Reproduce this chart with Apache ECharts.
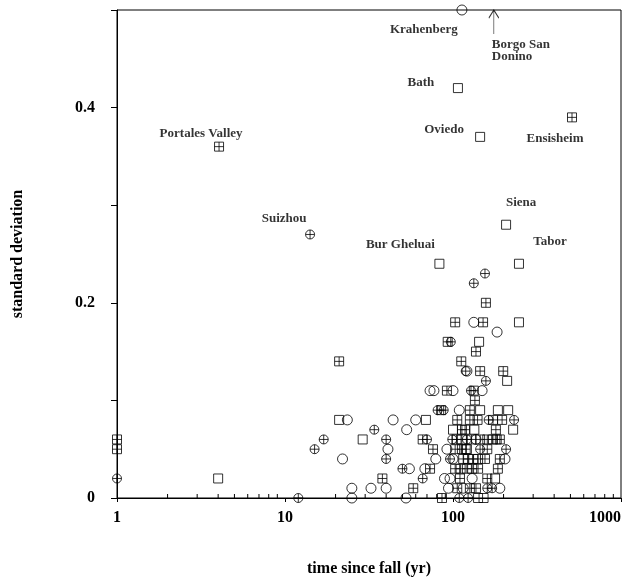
<!DOCTYPE html>
<html>
<head>
<meta charset="utf-8">
<script src="https://cdn.jsdelivr.net/npm/echarts@6/dist/echarts.min.js"></script>
<style>html,body{margin:0;padding:0;background:#fff;}#chart{width:639px;height:582px;}</style>
</head>
<body>
<div id="chart"></div>
<script>
// ---- data (time since fall [yr], standard deviation) ----
const circles = [
  [113,0.5],
  [133,0.18],[183,0.17],[121,0.13],
  [73,0.11],[77,0.11],[100,0.11],[149,0.11],
  [109,0.09],
  [23.5,0.08],[44,0.08],[60,0.08],
  [53,0.07],
  [137,0.06],
  [41,0.05],[92,0.05],
  [22,0.04],[79,0.04],[100,0.04],[204,0.04],
  [55,0.03],[68,0.03],
  [89,0.02],[96,0.02],[130,0.02],
  [25,0.01],[32.5,0.01],[40,0.01],[94,0.01],[115,0.01],[190,0.01],
  [25,0],[52.5,0]
];
const squares = [
  [107,0.42],[145,0.37],[207,0.28],[247,0.24],[83,0.24],
  [247,0.18],[143,0.16],[210,0.12],
  [145,0.09],[185,0.09],[213,0.09],
  [21,0.08],[69,0.08],
  [100,0.07],[134,0.07],[228,0.07],
  [29,0.06],
  [121,0.05],
  [4,0.02],[178,0.02],
  [141,0],[152,0]
];
const boxPlus = [
  [4.05,0.36],[511,0.39],
  [157,0.2],
  [103,0.18],[151,0.18],
  [93,0.16],
  [137,0.15],
  [21,0.14],[112,0.14],
  [145,0.13],[199,0.13],
  [92,0.11],[133,0.11],
  [135,0.1],
  [85,0.09],[126,0.09],
  [106,0.08],[126,0.08],[140,0.08],[173,0.08],[196,0.08],
  [113,0.07],[118,0.07],[180,0.07],
  [1,0.06],[66,0.06],[105,0.06],[113,0.06],[129,0.06],[145,0.06],[160,0.06],[173,0.06],[182,0.06],[190,0.06],
  [1,0.05],[76,0.05],[103,0.05],[113,0.05],[119,0.05],[160,0.05],
  [115,0.04],[123,0.04],[132,0.04],[141,0.04],[155,0.04],[190,0.04],
  [73,0.03],[103,0.03],[111,0.03],[121,0.03],[130,0.03],[141,0.03],[185,0.03],
  [38,0.02],[110,0.02],[160,0.02],
  [58,0.01],[106,0.01],[126,0.01],[137,0.01],
  [86,0]
];
const oPlus = [
  [14.1,0.27],
  [155,0.23],[133,0.22],
  [97,0.16],
  [119,0.13],[157,0.12],
  [128,0.11],
  [81,0.09],[88,0.09],
  [163,0.08],[231,0.08],
  [34,0.07],
  [17,0.06],[40,0.06],[70,0.06],[99,0.06],[121,0.06],
  [15,0.05],[145,0.05],[207,0.05],
  [40,0.04],[96,0.04],
  [50,0.03],
  [1,0.02],[66,0.02],
  [160,0.01],[171,0.01],
  [12,0],[109,0],[123,0]
];
// off-scale point (arrow)
const offScale = [[175,0.5]];
// named meteorites (anchor = their point)
const labelNames = ['Krahenberg','Borgo San\nDonino','Bath','Oviedo','Ensisheim','Siena','Tabor','Bur Gheluai','Suizhou','Portales Valley'];
const labelX = [113,175,107,145,511,207,247,83,14.1,4.05];
const labelY = [0.5,0.5,0.42,0.37,0.39,0.28,0.24,0.24,0.27,0.36];
const minorTickValues = [2,3,4,5,6,7,8,9,20,30,40,50,60,70,80,90,200,300,400,500,600,700,800,900];
const yTickLabels = {0:'0',2:'0.2',4:'0.4'};

// ---- styling ----
const FONT = "'Liberation Serif','Times New Roman',serif";
const labelOffsets = {
  'Krahenberg':[-38,20,'center'],
  'Borgo San\nDonino':[-2,41,'left'],
  'Bath':[-37,-5,'center'],
  'Oviedo':[-36,-7,'center'],
  'Ensisheim':[-17,21,'center'],
  'Siena':[15,-22,'center'],
  'Tabor':[31,-22,'center'],
  'Bur Gheluai':[-39,-19,'center'],
  'Suizhou':[-26,-16,'center'],
  'Portales Valley':[-18,-13,'center']
};
const SYM_BOXPLUS = 'path://M0,0 L10,0 L10,10 L0,10 Z M5,0 L5,10 M0,5 L10,5';
const SYM_OPLUS = 'path://M10,5 A5,5 0 1 1 0,5 A5,5 0 1 1 10,5 Z M5,0 L5,10 M0,5 L10,5';
const SYM_SQUARE = 'path://M0,0 L10,0 L10,10 L0,10 Z';
const SYM_CIRCLE = 'path://M10,5 A5,5 0 1 1 0,5 A5,5 0 1 1 10,5 Z';
const SYM_ARROW = 'path://M0,8 L5,0 L10,8 M5,0 L5,24';
const markerStyle = {color:'none', borderColor:'#000', borderWidth:1};

function scatter(name, data, symbol, size) {
  return {
    name, type:'scatter', data, symbol, symbolSize:size, clip:false, silent:true,
    itemStyle: markerStyle
  };
}

const labelData = labelNames.map((n,i) => ({
  value:[labelX[i], labelY[i]],
  label:{
    show:true, formatter:n, position:'inside',
    offset:[labelOffsets[n][0], labelOffsets[n][1]],
    align:labelOffsets[n][2], verticalAlign:'middle',
    fontFamily:FONT, fontWeight:'bold', fontSize:13, color:'#000', lineHeight:12
  }
}));

const chart = echarts.init(document.getElementById('chart'), null, {renderer:'canvas'});
chart.setOption({
  animation:false,
  backgroundColor:'#fff',
  grid:{left:117, right:18, top:10, bottom:82, show:true, borderColor:'#000', borderWidth:1, backgroundColor:'transparent'},
  xAxis:{
    type:'log', logBase:10, min:1, max:1000,
    name:'time since fall (yr)', nameLocation:'middle', nameGap:63,
    nameTextStyle:{fontFamily:FONT, fontWeight:'bold', fontSize:16, color:'#000'},
    axisLine:{show:true, onZero:false, lineStyle:{color:'#000', width:1}},
    axisTick:{show:true, length:4, lineStyle:{color:'#000'}},
    minorTick:{show:false},
    splitLine:{show:false},
    axisLabel:{fontFamily:FONT, fontWeight:'bold', fontSize:16, color:'#000', margin:12, alignMaxLabel:'right',
      formatter:(v)=>String(Math.round(v))}
  },
  yAxis:{
    type:'value', min:0, max:0.5, interval:0.1,
    name:'standard deviation', nameLocation:'middle', nameGap:91, nameRotate:90,
    nameTextStyle:{fontFamily:FONT, fontWeight:'bold', fontSize:16, color:'#000'},
    axisLine:{show:true, lineStyle:{color:'#000', width:1}},
    axisTick:{show:true, length:6, lineStyle:{color:'#000'}},
    splitLine:{show:false},
    axisLabel:{
      fontFamily:FONT, fontWeight:'bold', fontSize:16, color:'#000', margin:22,
      formatter:(v)=>{ const k=Math.round(v*10); return yTickLabels[k]!==undefined?yTickLabels[k]:''; }
    }
  },
  series:[
    scatter('circle', circles, SYM_CIRCLE, 10),
    scatter('square', squares, SYM_SQUARE, 9),
    scatter('boxplus', boxPlus, SYM_BOXPLUS, 9),
    scatter('oplus', oPlus, SYM_OPLUS, 9),
    {
      type:'scatter', data:offScale, symbol:SYM_ARROW, symbolSize:[10,24], symbolOffset:[0,12],
      clip:false, silent:true, itemStyle:markerStyle
    },
    {
      type:'scatter', data:labelData, symbolSize:1, clip:false, silent:true,
      itemStyle:{color:'rgba(0,0,0,0)'}, z:5
    },
    {
      type:'custom', silent:true, clip:false,
      data: minorTickValues.map(v=>[v,0]),
      encode:{x:0, y:1},
      renderItem:(params, api)=>{
        const p = api.coord([api.value(0), api.value(1)]);
        return {type:'line', shape:{x1:p[0], y1:p[1], x2:p[0], y2:p[1]-4}, style:{stroke:'#000', lineWidth:1}};
      }
    }
  ]
});
</script>
</body>
</html>
